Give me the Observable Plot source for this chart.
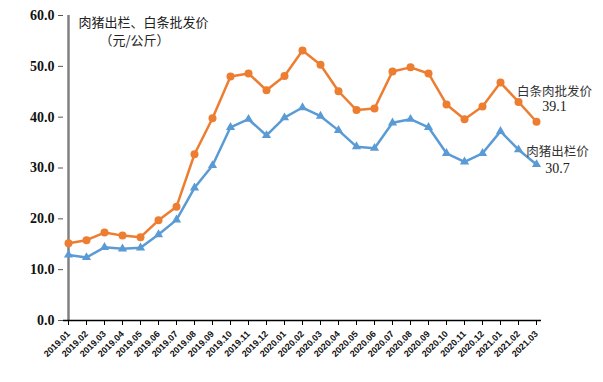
<!DOCTYPE html>
<html><head><meta charset="utf-8">
<script src="https://cdn.jsdelivr.net/npm/d3@7"></script>
<script src="https://cdn.jsdelivr.net/npm/@observablehq/plot@0.6"></script>
<style>
body{margin:0;background:#fff;}
</style>
</head><body><div id="chart"></div>
<script>
const months = ["2019.01","2019.02","2019.03","2019.04","2019.05","2019.06","2019.07","2019.08","2019.09","2019.10","2019.11","2019.12","2020.01","2020.02","2020.03","2020.04","2020.05","2020.06","2020.07","2020.08","2020.09","2020.10","2020.11","2020.12","2021.01","2021.02","2021.03"];
const wholesale = [15.2,15.8,17.3,16.7,16.4,19.7,22.4,32.7,39.8,48.0,48.6,45.3,48.1,53.1,50.3,45.1,41.4,41.7,49.0,49.8,48.6,42.5,39.6,42.1,46.8,43.0,39.1];
const hog = [12.9,12.4,14.4,14.1,14.3,16.9,19.8,26.1,30.5,38.0,39.6,36.4,39.9,41.9,40.2,37.4,34.2,33.9,38.9,39.6,38.0,32.9,31.2,32.9,37.2,33.6,30.7];
const seriesNames = ["白条肉批发价","肉猪出栏价"];
const titleLines = ["肉猪出栏、白条批发价","（元/公斤）"];
const yTicks = [0,10,20,30,40,50,60];

const wData = months.map((m,i)=>({m, v: wholesale[i]}));
const hData = months.map((m,i)=>({m, v: hog[i]}));
const lastW = wData[wData.length-1], lastH = hData[hData.length-1];
const orange = "#ED7D31", blue = "#5B9BD5";
const serif = "'Liberation Serif', 'DejaVu Serif', serif";
const cjk = "'Noto Sans CJK SC', sans-serif";

const chart = Plot.plot({
  width: 603, height: 382,
  marginLeft: 63, marginRight: 62, marginTop: 15, marginBottom: 62,
  style: {fontFamily: serif, background: "#fff"},
  x: {type: "point", domain: months, padding: 0},
  y: {domain: [0, 60]},
  marks: [
    Plot.ruleX([months[0]], {y1: 0, y2: 60, stroke: "#808080", strokeWidth: 2.5}),
    Plot.axisY({ticks: yTicks, tickFormat: d => d.toFixed(1), tickSize: 5, tickPadding: 4, stroke: "#555", label: null, fontSize: 14, fontWeight: "bold", fill: "#111"}),
    Plot.axisX({tickSize: 5, tickPadding: 7, tickRotate: -45, label: null, fontSize: 9, fontWeight: "bold", stroke: "#000", fill: "#111", fontFamily: "'Liberation Sans', sans-serif"}),
    Plot.ruleY([0], {stroke: "#000", strokeWidth: 1.5}),
    Plot.line(wData, {x: "m", y: "v", stroke: orange, strokeWidth: 2.5}),
    Plot.dot(wData, {x: "m", y: "v", fill: orange, r: 4, symbol: "circle"}),
    Plot.line(hData, {x: "m", y: "v", stroke: blue, strokeWidth: 2.5}),
    Plot.dot(hData, {x: "m", y: "v", fill: blue, r: 3.4, symbol: "triangle"}),
    Plot.text([lastW], {x: "m", y: "v", text: () => seriesNames[0], dx: 18, dy: -30, fontFamily: cjk, fontSize: 12.5, fill: "#333"}),
    Plot.text([lastW], {x: "m", y: "v", text: d => d.v.toFixed(1), dx: 18, dy: -15, fontSize: 14, fill: "#222"}),
    Plot.text([lastH], {x: "m", y: "v", text: () => seriesNames[1], dx: 21, dy: -12, fontFamily: cjk, fontSize: 12.5, fill: "#333"}),
    Plot.text([lastH], {x: "m", y: "v", text: d => d.v.toFixed(1), dx: 21, dy: 4, fontSize: 14, fill: "#222"}),
    Plot.text([titleLines[0]], {frameAnchor: "top-left", dx: 15, dy: 7, textAnchor: "start", lineAnchor: "middle", fontFamily: cjk, fontSize: 13, fill: "#222"}),
    Plot.text([titleLines[1]], {frameAnchor: "top-left", dx: 36, dy: 25, textAnchor: "start", lineAnchor: "middle", fontFamily: cjk, fontSize: 13, fill: "#222"})
  ]
});
document.getElementById("chart").appendChild(chart);
</script>
</body></html>
